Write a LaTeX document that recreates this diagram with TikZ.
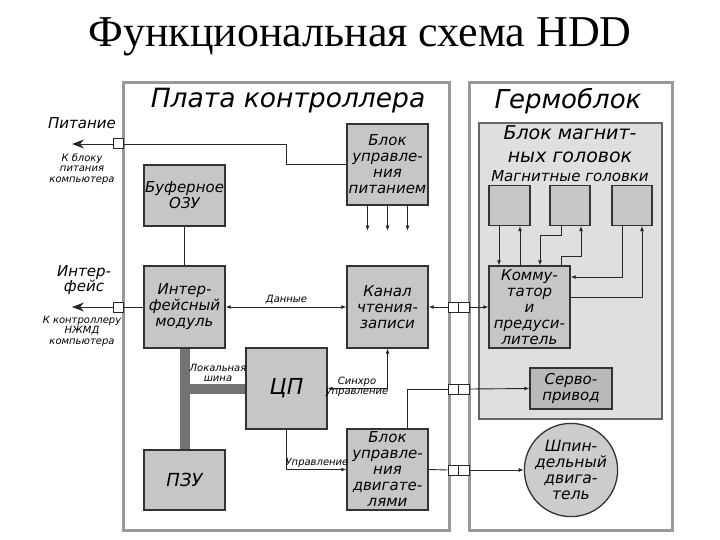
\documentclass[tikz,border=0pt]{standalone}
\usepackage{fontspec}
\setmainfont{Liberation Serif}
\setsansfont{DejaVu Sans}[ItalicFont={DejaVu Sans Oblique}]
\usetikzlibrary{arrows.meta,positioning,calc}

\newcommand{\fs}[2]{\fontsize{#1}{#2}\selectfont}

\begin{document}
\begin{tikzpicture}[x=1pt, y=-1pt,
    every node/.style={font=\sffamily\itshape},
    blk/.style={draw=black!80, line width=1.3pt, fill=gray!45, align=center,
        inner sep=0pt, minimum width=81pt, minimum height=81pt,
        font=\sffamily\itshape\fs{15}{16}},
    head/.style={draw=black!80, line width=1.2pt, fill=gray!45, inner sep=0pt,
        minimum size=40pt},
    port/.style={draw=black!85, line width=1pt, fill=white, inner sep=0pt,
        minimum size=10pt},
    dport/.style={port, minimum width=21pt, minimum height=10pt,
        path picture={\draw[line width=1pt] (path picture bounding box.north)
            -- (path picture bounding box.south);}},
    frame/.style={draw=gray!80, line width=3pt},
    line/.style={draw=black!85, line width=0.9pt},
    arr/.style={-{Latex[length=5pt,width=4pt]}},
    bigarr/.style={line, -{Stealth[length=12pt,width=9pt]}},
    bus/.style={draw=black!55, line width=10pt},
    small/.style={font=\sffamily\itshape\fs{10}{10.5}, align=center}]

    \useasboundingbox (0,0) rectangle (720,540);

    % title
    \node[anchor=base, font=\rmfamily\upshape\fs{44}{48}] (title) at (360,47)
        {Функциональная схема HDD};

    % frames
    \draw[frame] (123,83) rectangle (449,530);
    \draw[frame] (469,83) rectangle (672,530);
    \draw[draw=black!60, line width=1.3pt, fill=gray!25] (479,123) rectangle (662,419);
    \node[anchor=base, font=\sffamily\itshape\fs{26.5}{28}] (board) at (288,108) {Плата контроллера};
    \node[anchor=base, font=\sffamily\itshape\fs{26}{28}] (hda) at (568,109) {Гермоблок};
    \node[align=center, font=\sffamily\itshape\fs{19}{23}] (hblk) at (570,144) {Блок магнит-\\ных головок};
    \node[font=\sffamily\itshape\fs{15}{16}] (hlbl) at (570,176) {Магнитные головки};

    % controller blocks
    \node[blk] (pwr) at (387.5,164.5) {Блок\\управле-\\ния\\питанием};
    \node[blk, minimum height=61pt] (ram) at (184.5,195.5) {Буферное\\ОЗУ};
    \node[blk, minimum height=82pt] (ifc) at (184.5,307) {Интер-\\фейсный\\модуль};
    \node[blk, minimum height=82pt] (chan) at (387.5,307) {Канал\\чтения-\\записи};
    \node[blk, font=\sffamily\itshape\fs{22}{24}] (cpu) at (286.5,388.5) {ЦП};
    \node[blk, minimum height=60pt, font=\sffamily\itshape\fs{18}{22}] (rom) at (184.5,480) {ПЗУ};
    \node[blk] (mot) at (387.5,469.5) {Блок\\управле-\\ния\\двигате-\\лями};

    % hda blocks
    \node[head, minimum width=41pt] (h1) at (509.5,205.5) {};
    \node[head] (h2) at (570,205.5) {};
    \node[head] (h3) at (632,205.5) {};
    \node[blk, minimum height=82pt] (com) at (529.5,307) {Комму-\\татор\\и\\предуси-\\литель};
    \node[blk, fill=gray!55, minimum width=82pt, minimum height=41pt] (servo) at (571,388.5) {Серво-\\привод};
    \node[blk, circle, fill=gray!40, minimum size=80pt, font=\sffamily\itshape\fs{15.5}{16}] (spin) at (571,470) {Шпин-\\дельный\\двига-\\тель};

    % ports
    \node[port] (p1) at (118,144) {};
    \node[port] (p2) at (118,307) {};
    \node[dport] (c1) at (458.5,307) {};
    \node[dport] (c2) at (458.5,389) {};
    \node[dport] (c3) at (458.5,470) {};
    \coordinate (pout) at (72,144);
    \coordinate (iout) at (72,307);

    % outside labels
    \node[anchor=base, font=\sffamily\itshape\fs{15}{16}] (pwrlbl) at (82,129) {Питание};
    \node[small] (pwrsub) at (82,169) {К блоку\\питания\\компьютера};
    \node[align=center, font=\sffamily\itshape\fs{15}{15.5}] (ifclbl) at (84,280) {Интер-\\фейс};
    \node[small] (ifcsub) at (82,331) {К контроллеру\\НЖМД\\компьютера};

    % bus
    \draw[bus] (ifc.south) -- (rom.north);
    \draw[bus] (ifc.south |- cpu.west) -- (cpu.west);
    \node[small] (buslbl) at (218,373) {Локальная\\шина};

    % connectors
    \draw[bigarr] (p1.west) -- (pout);
    \draw[bigarr] (p2.west) -- (iout);
    \draw[line] (p1.east) -| ([xshift=-60pt]pwr.west) -- (pwr.west);
    \draw[line] (ifc.west) -- (p2.east);
    \foreach \dx in {-20,0,20}
        \draw[line, arr] ([xshift=\dx pt]pwr.south) -- ++(0,25);
    \draw[line] (ram.south) -- (ifc.north);
    \draw[line, {Latex[length=5pt,width=4pt]}-{Latex[length=5pt,width=4pt]}] (ifc.east) -- (chan.west);
    \node[small] (datalbl) at (286.5,300) {Данные};
    \draw[line, {Latex[length=5pt,width=4pt]}-] (chan.east) -- (c1.west);
    \draw[line, arr] (c1.east) -- (com.west);
    \draw[line, {Latex[length=5pt,width=4pt]}-{Latex[length=5pt,width=4pt]}] (cpu.east) -| (chan.south);
    \node[small] (synlbl) at (357,387) {Синхро\\управление};
    \draw[line, arr] (cpu.south) |- (mot.west);
    \node[small] (ctllbl) at (317,463) {Управление};
    \draw[line] ([xshift=20pt]mot.north) |- (c2.west);
    \draw[line, arr] (c2.east) -- (servo.west);
    \draw[line] (mot.east) -- (c3.west);
    \draw[line, arr] (c3.east) -- (spin.west);

    % heads wiring
    \draw[line, arr] ([xshift=-10.5pt]h1.south) -- ([xshift=-10.5pt]h1.south |- com.north);
    \draw[line, arr] ([xshift=10.5pt]h1.south |- com.north) -- ([xshift=10.5pt]h1.south);
    \draw[line, arr] ([xshift=-9pt]h2.south) -- ++(0,9) -| ([xshift=10.5pt]com.north);
    \draw[line, arr] ([xshift=31.5pt]com.north) -- ++(0,-9) -| ([xshift=11pt]h2.south);
    \draw[line, arr] ([xshift=-10pt]h3.south) |- ([yshift=30pt]com.east);
    \draw[line, arr] ([yshift=10pt]com.east) -| ([xshift=10pt]h3.south);
\end{tikzpicture}
\end{document}
